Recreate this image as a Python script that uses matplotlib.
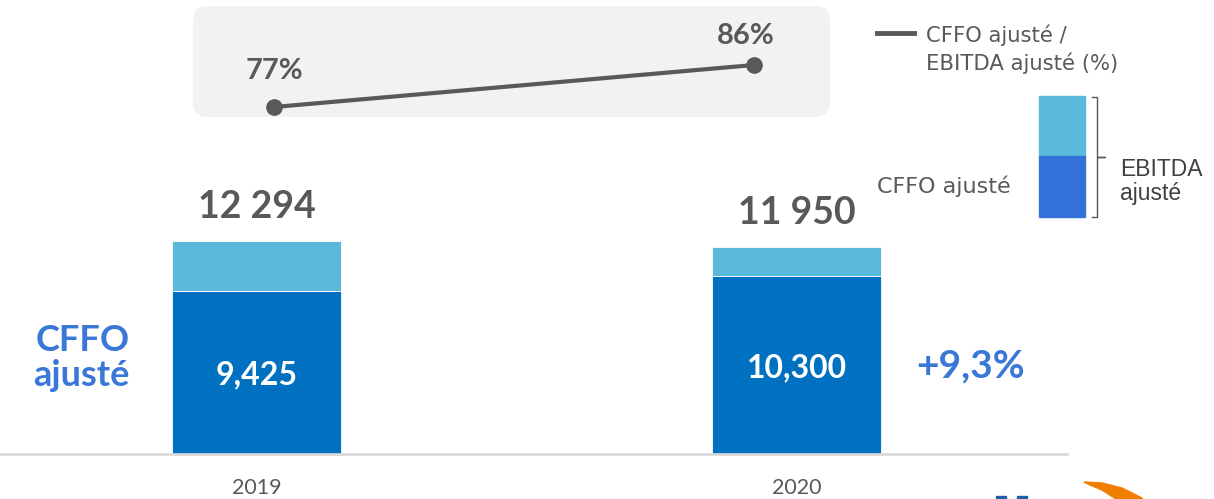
import matplotlib
matplotlib.use("Agg")
import matplotlib.pyplot as plt
from matplotlib.patches import FancyBboxPatch, Rectangle, Polygon
from matplotlib.lines import Line2D

################################
# Data
################################
years        = ['2019', '2020']
cffo         = [9425, 10300]
ebitda       = [12294, 11950]
ratio_pct    = [77, 86]
cffo_labels  = ['9,425', '10,300']
total_labels = ['12 294', '11 950']
growth_label = '+9,3%'

################################
# Style
################################
plt.rcParams['font.family'] = ['Lato', 'DejaVu Sans']
DARK     = '#0070C0'
LIGHT    = '#5BBADB'
LEG_DARK = '#3373D9'
GREY     = '#595959'
BLUE_TXT = '#3A78D8'

W, H = 1214, 499
fig = plt.figure(figsize=(W / 100, H / 100), dpi=100)

def fx(px):
    return px / W

def fy(py):
    return 1 - py / H

################################
# Bars
################################
base_px = 454
px_per_unit = 213 / 12294
ax = fig.add_axes([0, 1 - base_px / H, 1, base_px / H])
ax.set_ylim(0, base_px / px_per_unit)
ax.set_xlim(-256.5 / 540, 1 + (W - 796.5) / 540)

x = [0, 1]
width = 169 / 540
rest = [e - c for e, c in zip(ebitda, cffo)]
ax.bar(x, cffo, width=width, color=DARK, edgecolor='white', linewidth=0.6)
ax.bar(x, rest, bottom=cffo, width=width, color=LIGHT, edgecolor='white', linewidth=0.6)

for xi, c, e, cl, tl in zip(x, cffo, ebitda, cffo_labels, total_labels):
    ax.text(xi, c * 0.485, cl, ha='center', va='center', color='white',
            fontsize=23, fontweight='bold')
    ax.annotate(tl, (xi, e), xytext=(0, 12), textcoords='offset points',
                ha='center', va='bottom', color=GREY, fontsize=27, fontweight='bold')

ax.axhline(0, xmin=0, xmax=1067 / W, color='#D9D9D9', lw=2, clip_on=False)
for s in ax.spines.values():
    s.set_visible(False)
ax.set_yticks([])
ax.set_xticks(x)
ax.set_xticklabels(years, color=GREY, fontsize=15.5)
ax.tick_params(axis='x', length=0, pad=17)
ax.patch.set_visible(False)

fig.text(fx(130), fy(358), 'CFFO\najusté', ha='right', va='center', multialignment='right',
         color=BLUE_TXT, fontsize=26, fontweight='bold', linespacing=1.1)
fig.text(fx(971), fy(366), growth_label, ha='center', va='center',
         color=BLUE_TXT, fontsize=28, fontweight='bold')

################################
# Ratio panel
################################
r = 0.15
box = FancyBboxPatch((1.93 + r, (H - 117) / 100 + r), 6.37 - 2 * r, 1.11 - 2 * r,
                     boxstyle=f'round,pad={r}', transform=fig.dpi_scale_trans,
                     facecolor='#F2F2F2', edgecolor='none', zorder=-1)
fig.patches.append(box)

ax2 = fig.add_axes([fx(274), fy(107), fx(754) - fx(274), (107 - 65) / H])
ax2.set_xlim(0, 1)
ax2.set_ylim(ratio_pct[0], ratio_pct[1])
ax2.plot([0, 1], ratio_pct, color=GREY, lw=3, marker='o', markersize=11,
         clip_on=False)
offsets = [(0, 26), (-6, 21)]
for xi, v, off in zip([0, 1], ratio_pct, offsets):
    ax2.annotate(f'{v}%', (xi, v), xytext=off, textcoords='offset points',
                 ha='center', va='center', color=GREY, fontsize=21, fontweight='bold')
ax2.axis('off')

################################
# Legend
################################
leg_font = ['DejaVu Sans']
fig.lines.append(Line2D([fx(877), fx(914)], [fy(33), fy(33)], color=GREY, lw=3.5,
                        transform=fig.transFigure))
fig.text(fx(926), fy(42), 'CFFO ajusté /', ha='left', va='baseline',
         color=GREY, fontsize=15.2, family=leg_font)
fig.text(fx(926), fy(70), 'EBITDA ajusté (%)', ha='left', va='baseline',
         color=GREY, fontsize=15.2, family=leg_font)
fig.patches.append(Rectangle((fx(1039), fy(156)), fx(46), 60 / H, color=LIGHT,
                             transform=fig.transFigure))
fig.patches.append(Rectangle((fx(1039), fy(217)), fx(46), 61 / H, color=LEG_DARK,
                             transform=fig.transFigure))
fig.lines.append(Line2D([fx(1092), fx(1097), fx(1097), fx(1105), fx(1097), fx(1097), fx(1092)],
                        [fy(97), fy(97), fy(157), fy(157), fy(157), fy(217), fy(217)],
                        color=GREY, lw=1, transform=fig.transFigure))
fig.text(fx(877), fy(193), 'CFFO ajusté', ha='left', va='baseline', color=GREY,
         fontsize=16, family=leg_font)
fig.text(fx(1120), fy(176), 'EBITDA', ha='left', va='baseline', color='#404040',
         fontsize=16.5, family=['Liberation Sans'])
fig.text(fx(1120), fy(200), 'ajusté', ha='left', va='baseline', color='#404040',
         fontsize=16.5, family=['Liberation Sans'])

################################
# Logo fragment
################################
for lx in (996, 1017):
    fig.patches.append(Rectangle((fx(lx), 0), fx(10), 3 / H, color='#1F5FA8',
                                 transform=fig.transFigure))
fig.patches.append(Polygon([(fx(1084), fy(482)), (fx(1102), fy(483)), (fx(1122), fy(488)),
                            (fx(1140), fy(497)), (fx(1143), fy(499)), (fx(1116), fy(499)),
                            (fx(1102), fy(490)), (fx(1090), fy(485))],
                           closed=True, color='#EF7D00', transform=fig.transFigure))

fig.savefig('out.png', dpi=100)
